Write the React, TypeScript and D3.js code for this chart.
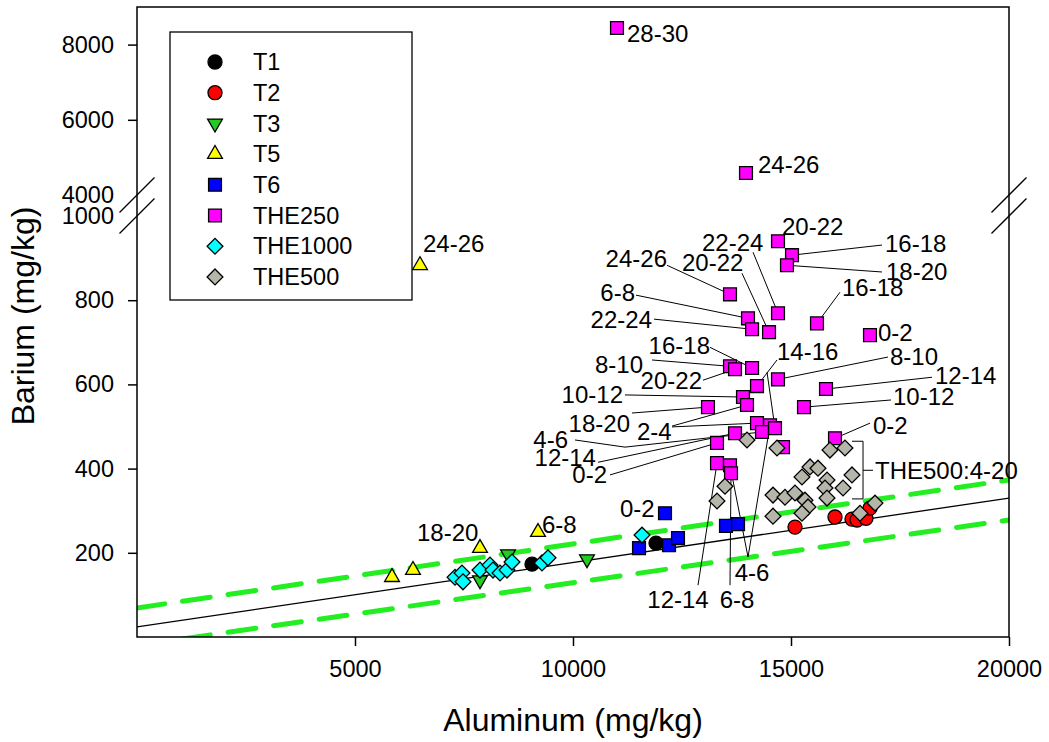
import * as d3 from 'd3';
import React, { useEffect, useRef } from 'react';

// series, in legend / draw order
const seriesNames = ['T1', 'T2', 'T3', 'T5', 'T6', 'THE250', 'THE1000', 'THE500'];
const seriesFill = ['#000000', '#ff0000', '#22cc22', '#ffff00', '#0000ff', '#ff00ff', '#00ffff', '#b5b5aa'];
const seriesShape = ['circle', 'circle', 'triDown', 'triUp', 'square', 'square', 'diamond', 'diamond'];

// [Aluminum, Barium] mg/kg
const t1 = [[9060, 173], [11904, 223]];
const t2 = [[15092, 261], [16009, 285], [16399, 280], [16514, 278], [16720, 282], [16812, 306]];
const t3 = [[10321, 185], [8509, 197], [7867, 135]];
const t5 = [[5849, 142], [6330, 159], [7867, 211], [9197, 249], [6491, 883]];
const t6 = [[12110, 294], [11514, 211], [12202, 218], [12408, 235], [13509, 264], [13785, 268]];
const the250 = [
  [11009, 8441], [13968, 4585], [14702, 940], [15023, 907], [14908, 883], [13601, 814], [14014, 757],
  [14702, 769], [14496, 724], [14107, 731], [15596, 745], [16812, 717], [13601, 643], [13716, 636],
  [14107, 639], [14702, 612], [14220, 596], [15803, 589], [13899, 570], [13991, 551], [15298, 546],
  [13096, 546], [14220, 508], [14519, 503], [14633, 496], [14335, 487], [13716, 484], [13303, 461],
  [13303, 413], [13601, 408], [13624, 389], [14817, 451], [16009, 472]
];
const the1000 = [
  [7294, 142], [7454, 152], [7477, 131], [7867, 159], [8096, 171], [8165, 159], [8326, 152],
  [8486, 159], [8601, 178], [9289, 176], [9427, 188], [11583, 242]
];
const the500 = [
  [13991, 468], [14679, 449], [15894, 444], [16238, 449], [15436, 404], [15619, 401], [15252, 380],
  [15826, 373], [16399, 385], [16193, 354], [15780, 354], [14587, 337], [14862, 332], [15092, 342],
  [15321, 325], [15826, 330], [15390, 309], [15252, 294], [14587, 287], [16583, 294], [16927, 318],
  [13486, 358], [13303, 323]
];
const seriesData = [t1, t2, t3, t5, t6, the250, the1000, the500];

// regression line and bounds (end points)
const fitLine = [[0, 24], [20000, 330]];
const upperBound = [[0, 69], [20000, 373]];
const lowerBound = [[0, -20], [20000, 278]];

const xTicks = [5000, 10000, 15000, 20000];
const yTicksLow = [200, 400, 600, 800, 1000];
const yTicksHigh = [4000, 6000, 8000];
const breakValues = [1000, 4000];

// sample depth labels: text, Al, Ba, anchor, leader polylines (data units)
const pointLabels = [
  ['28-30', 11239, 8283, 'start', []],
  ['24-26', 14243, 4798, 'start', []],
  ['20-22', 14794, 976, 'start', []],
  ['16-18', 17156, 935, 'start', [[[17087, 931], [15023, 907]]]],
  ['18-20', 17179, 869, 'start', [[[17087, 867], [14908, 883]]]],
  ['24-26', 12156, 900, 'end', [[[12156, 883], [13601, 814]]]],
  ['6-8', 11422, 819, 'end', [[[11445, 812], [14014, 757]]]],
  ['22-24', 12959, 938, 'start', [[[14129, 914], [14702, 769]]]],
  ['20-22', 12500, 890, 'start', [[[13876, 864], [14496, 724]]]],
  ['22-24', 11812, 753, 'end', [[[11858, 755], [14107, 731]]]],
  ['16-18', 16170, 831, 'start', [[[16124, 819], [15596, 745]]]],
  ['0-2', 16996, 722, 'start', []],
  ['8-10', 11606, 648, 'end', [[[11812, 658], [13601, 643]]]],
  ['20-22', 12959, 610, 'end', [[[12982, 610], [13716, 636]]]],
  ['16-18', 13142, 693, 'end', [[[13142, 688], [14107, 639]]]],
  ['8-10', 17271, 665, 'start', [[[17225, 665], [14702, 612]]]],
  ['14-16', 14679, 677, 'start', [[[14679, 658], [14220, 596]], [[14450, 629], [14633, 496]]]],
  ['12-14', 18303, 622, 'start', [[[18234, 617], [15803, 589]]]],
  ['10-12', 11147, 575, 'end', [[[11193, 575], [13899, 570]]]],
  ['10-12', 17340, 570, 'start', [[[17294, 563], [15298, 546]]]],
  ['18-20', 11307, 508, 'end', [[[11353, 532], [13096, 546]]]],
  ['2-4', 11468, 487, 'start', [[[12271, 501], [13991, 551]], [[12271, 499], [14220, 508]]]],
  ['4-6', 9885, 468, 'end', [[[10046, 468], [11193, 451], [14335, 487]]]],
  ['12-14', 10527, 425, 'end', [[[10573, 415], [13716, 484]]]],
  ['0-2', 10780, 385, 'end', [[[10849, 385], [13303, 461]]]],
  ['12-14', 12408, 88, 'middle', [[[12867, 123], [13303, 413]]]],
  ['6-8', 13762, 88, 'middle', [[[13601, 123], [13624, 389]]]],
  ['4-6', 14106, 152, 'middle', [[[14014, 190], [13601, 408]], [[14014, 190], [14519, 503]]]],
  ['0-2', 16881, 503, 'start', [[[16812, 508], [16009, 472]]]],
  ['24-26', 6560, 935, 'start', []],
  ['18-20', 6422, 247, 'start', []],
  ['6-8', 9289, 268, 'start', []],
  ['0-2', 11078, 304, 'start', []]
];

// THE500 bracket: Al left tick / line / right tick, Ba bottom / middle / top
const bracketAl = [16399, 16652, 16881];
const bracketBa = [328, 396, 465];
const bracketText = 'THE500:4-20';

export default function App() {
  const ref = useRef(null);

  useEffect(() => {
    const W = 1049, H = 742;
    const left = 137, right = 1009, top = 7, bottom = 637;
    const breakHigh = 195, breakLow = 216;
    const font = '"Liberation Sans", Arial, sans-serif';

    const svg = d3.select(ref.current);
    svg.selectAll('*').remove();
    svg.attr('width', W).attr('height', H).style('font-family', font);

    const x = d3.scaleLinear().domain([0, 20000]).range([left, right]);
    const yLow = d3.scaleLinear().domain([0, 1000]).range([bottom, breakLow]);
    const yHigh = d3.scaleLinear().domain([4000, 9000]).range([breakHigh, top]);
    const y = (v) => (v >= 4000 ? yHigh(v) : yLow(v));

    svg.append('rect').attr('width', W).attr('height', H).attr('fill', '#fff');

    svg.append('clipPath').attr('id', 'plotclip')
      .append('rect').attr('x', left).attr('y', top).attr('width', right - left).attr('height', bottom - top);

    // fit lines
    const line = d3.line().x((d) => x(d[0])).y((d) => yLow(d[1]));
    const fits = svg.append('g').attr('clip-path', 'url(#plotclip)');
    fits.append('path').attr('d', line(fitLine)).attr('fill', 'none').attr('stroke', '#000').attr('stroke-width', 1.3);
    [upperBound, lowerBound].forEach((b) => {
      fits.append('path').attr('d', line(b)).attr('fill', 'none')
        .attr('stroke', '#22ee22').attr('stroke-width', 5)
        .attr('stroke-dasharray', '28 18').attr('stroke-linecap', 'round');
    });

    // leader lines
    const leaderLine = d3.line().x((d) => x(d[0])).y((d) => y(d[1]));
    const leaders = svg.append('g').attr('fill', 'none').attr('stroke', '#000').attr('stroke-width', 1);
    pointLabels.forEach((l) => {
      l[4].forEach((pl) => leaders.append('path').attr('d', leaderLine(pl)));
    });

    // bracket
    const br = svg.append('g').attr('stroke', '#000').attr('stroke-width', 1).attr('fill', 'none');
    br.append('path').attr('d',
      `M${x(bracketAl[0])},${y(bracketBa[2])}H${x(bracketAl[1])}V${y(bracketBa[0])}H${x(bracketAl[0])}` +
      `M${x(bracketAl[1])},${y(bracketBa[1])}H${x(bracketAl[2])}`);

    // markers
    const shapes = {
      circle: { d: d3.symbol(d3.symbolCircle, 155)(), rot: 0 },
      square: { d: d3.symbol(d3.symbolSquare, 165)(), rot: 0 },
      diamond: { d: d3.symbol(d3.symbolSquare, 125)(), rot: 45 },
      triUp: { d: d3.symbol(d3.symbolTriangle, 95)(), rot: 0 },
      triDown: { d: d3.symbol(d3.symbolTriangle, 95)(), rot: 180 }
    };
    seriesData.forEach((data, i) => {
      const s = shapes[seriesShape[i]];
      svg.append('g').selectAll('path').data(data).join('path')
        .attr('d', s.d)
        .attr('transform', (d) => `translate(${x(d[0])},${y(d[1])}) rotate(${s.rot})`)
        .attr('fill', seriesFill[i]).attr('stroke', '#000').attr('stroke-width', 1.3);
    });

    // labels
    const labels = svg.append('g').style('font-size', '24px').attr('fill', '#000');
    pointLabels.forEach((l) => {
      labels.append('text').attr('x', x(l[1])).attr('y', y(l[2])).attr('dy', '0.35em')
        .attr('text-anchor', l[3]).text(l[0]);
    });
    labels.append('text').attr('x', x(bracketAl[2]) + 2).attr('y', y(bracketBa[1])).attr('dy', '0.35em').text(bracketText);

    // frame
    const frame = svg.append('g').attr('stroke', '#000').attr('stroke-width', 1.5).attr('fill', 'none');
    frame.append('rect').attr('x', left).attr('y', top).attr('width', right - left).attr('height', bottom - top);

    // axes
    const styleAxis = (g) => {
      g.select('.domain').remove();
      g.selectAll('line').attr('stroke', '#000').attr('stroke-width', 1.5);
      g.selectAll('text').style('font-size', '23.5px').style('font-family', font).attr('fill', '#000');
    };
    svg.append('g').attr('transform', `translate(0,${bottom})`)
      .call(d3.axisBottom(x).tickValues(xTicks).tickSize(9).tickSizeOuter(0).tickPadding(14).tickFormat(d3.format('d')))
      .call(styleAxis);
    [[yLow, yTicksLow], [yHigh, yTicksHigh]].forEach(([sc, ticks]) => {
      const g = svg.append('g').attr('transform', `translate(${left},0)`)
        .call(d3.axisLeft(sc).tickValues(ticks).tickSize(9).tickSizeOuter(0).tickPadding(14).tickFormat(d3.format('d')))
        .call(styleAxis);
      g.selectAll('.tick').filter((d) => breakValues.includes(d)).select('line').remove();
    });

    // axis breaks
    const brk = svg.append('g').attr('stroke', '#000').attr('stroke-width', 1.3);
    [left, right].forEach((bx) => {
      [breakHigh, breakLow].forEach((by) => {
        brk.append('line').attr('x1', bx - 17.5).attr('y1', by + 17.5).attr('x2', bx + 17.5).attr('y2', by - 17.5);
      });
    });

    // axis titles
    svg.append('text').attr('x', (left + right) / 2).attr('y', 731).attr('text-anchor', 'middle')
      .style('font-size', '32px').text('Aluminum (mg/kg)');
    svg.append('text').attr('transform', 'translate(34,316) rotate(-90)')
      .attr('text-anchor', 'middle').style('font-size', '32px').text('Barium (mg/kg)');

    // legend
    const lg = svg.append('g');
    lg.append('rect').attr('x', 170).attr('y', 32).attr('width', 242).attr('height', 268)
      .attr('fill', '#fff').attr('stroke', '#000').attr('stroke-width', 1.3);
    seriesNames.forEach((name, i) => {
      const s = shapes[seriesShape[i]];
      const ly = 62 + i * 30.7;
      lg.append('path').attr('d', s.d).attr('transform', `translate(215,${ly}) rotate(${s.rot})`)
        .attr('fill', seriesFill[i]).attr('stroke', '#000').attr('stroke-width', 1.3);
      lg.append('text').attr('x', 253).attr('y', ly).attr('dy', '0.35em').style('font-size', '23.5px').text(name);
    });
  }, []);

  return <svg ref={ref} style={{ position: 'absolute', left: 0, top: 0, display: 'block' }}></svg>;
}
